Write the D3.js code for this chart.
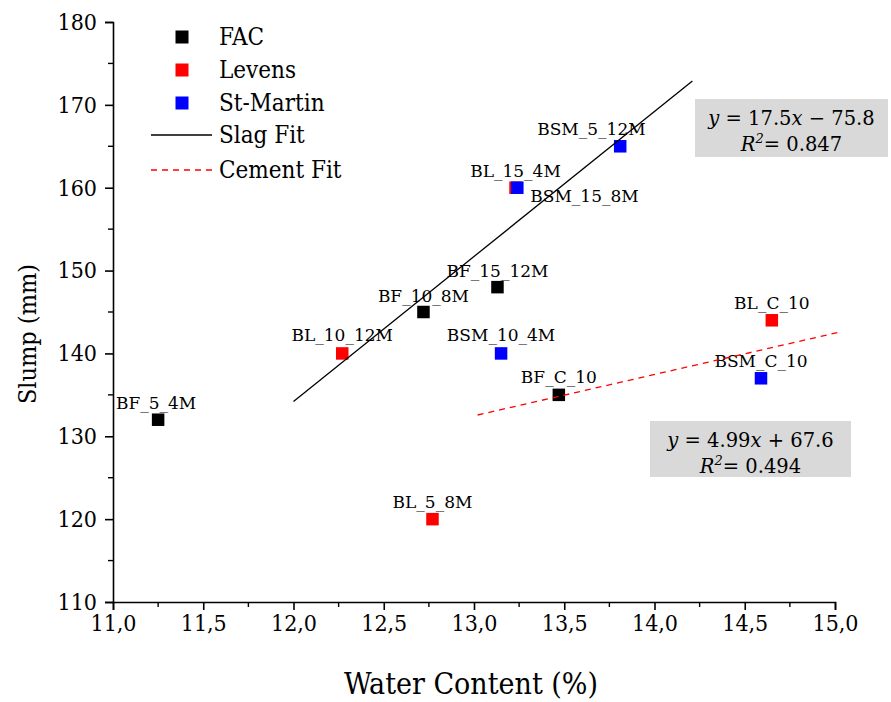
<!DOCTYPE html>
<html><head><meta charset="utf-8">
<script src="https://cdn.jsdelivr.net/npm/d3@7"></script>
<style>body{margin:0;background:#fff}</style>
</head><body>
<script>
// ---- data ----
const sampleNames = ["BF_5_4M","BF_10_8M","BF_15_12M","BF_C_10",
                     "BL_5_8M","BL_10_12M","BL_15_4M","BL_C_10",
                     "BSM_5_12M","BSM_10_4M","BSM_15_8M","BSM_C_10"];
const sampleGroup = ["FAC","FAC","FAC","FAC","Levens","Levens","Levens","Levens",
                     "St-Martin","St-Martin","St-Martin","St-Martin"];
const waterContent = [11.25,12.72,13.13,13.47, 12.77,12.27,13.23,14.65, 13.81,13.15,13.24,14.59];
const slumpValues  = [132,145,148,135, 120,140,160,144, 165,140,160,137];
const groups = ["FAC","Levens","St-Martin"];
const groupColors = ["#000000","#ff0000","#0000ff"];
const xTicks = [11,11.5,12,12.5,13,13.5,14,14.5,15];
const yTicks = [110,120,130,140,150,160,170,180];
const slagFit = {slope:17.5, intercept:-75.8, from:12.0, to:14.21, r2:0.847};
const cementFit = {slope:4.99, intercept:67.6, from:13.02, to:15.02, r2:0.494};

// ---- layout ----
const W = 891, H = 702;
const x = d3.scaleLinear().domain([11,15]).range([113,835]);
const y = d3.scaleLinear().domain([110,180]).range([602,22]);
// label placement: [dx, dy, anchor]
const labelPos = {
  "BF_5_4M":[-2,-11,"middle"], "BF_10_8M":[0,-10,"middle"], "BF_15_12M":[0,-10,"middle"],
  "BF_C_10":[0,-12,"middle"], "BL_5_8M":[0,-11,"middle"], "BL_10_12M":[0,-12,"middle"],
  "BL_15_4M":[0,-11,"middle"], "BL_C_10":[0,-11,"middle"], "BSM_5_12M":[-83,-11,"start"],
  "BSM_10_4M":[0,-12,"middle"], "BSM_15_8M":[13,14,"start"], "BSM_C_10":[0,-11,"middle"]
};

const svg = d3.select("body").append("svg").attr("width",W).attr("height",H)
  .style("font-family","'DejaVu Serif Condensed','DejaVu Serif',serif");

// axes
const xAxis = d3.axisBottom(x).tickValues(xTicks).tickFormat(d=>d.toFixed(1).replace(".",",")).tickSize(8).tickPadding(5);
const gx = svg.append("g").attr("transform",`translate(0,${y(110)})`).call(xAxis);
const yAxis = d3.axisLeft(y).tickValues(yTicks).tickSize(8).tickPadding(8);
const gy = svg.append("g").attr("transform",`translate(${x(11)},0)`).call(yAxis);
[gx,gy].forEach(g=>{
  g.select(".domain").attr("stroke","#000").attr("stroke-width",1.6);
  g.selectAll(".tick line").attr("stroke","#000").attr("stroke-width",1.6);
  g.selectAll(".tick text").attr("fill","#000").style("font-size","23px")
   .style("font-family","'DejaVu Serif Condensed','DejaVu Serif',serif");
});
// minor ticks
const xMinor = d3.range(11.25,15,0.5);
svg.append("g").selectAll("line").data(xMinor).join("line")
  .attr("x1",d=>x(d)).attr("x2",d=>x(d)).attr("y1",y(110)).attr("y2",y(110)+5)
  .attr("stroke","#000").attr("stroke-width",1.4);
const yMinor = d3.range(115,180,10);
svg.append("g").selectAll("line").data(yMinor).join("line")
  .attr("y1",d=>y(d)).attr("y2",d=>y(d)).attr("x1",x(11)).attr("x2",x(11)-5)
  .attr("stroke","#000").attr("stroke-width",1.4);

// axis titles
svg.append("text").attr("x",471).attr("y",694).attr("text-anchor","middle")
  .style("font-size","30px").text("Water Content (%)");
svg.append("text").attr("transform",`translate(36,334) rotate(-90)`)
  .attr("text-anchor","middle").style("font-size","25px").text("Slump (mm)");

// points
const idx = d3.range(sampleNames.length);
const color = g => groupColors[groups.indexOf(g)];
const s = 12.5;
svg.append("g").selectAll("rect").data(idx).join("rect")
  .attr("x",i=>x(waterContent[i])-s/2).attr("y",i=>y(slumpValues[i])-s/2)
  .attr("width",s).attr("height",s).attr("fill",i=>color(sampleGroup[i]));

// labels
svg.append("g").selectAll("text").data(idx).join("text")
  .attr("x",i=>x(waterContent[i])+labelPos[sampleNames[i]][0])
  .attr("y",i=>y(slumpValues[i])+labelPos[sampleNames[i]][1])
  .attr("text-anchor",i=>labelPos[sampleNames[i]][2])
  .style("font-family","'DejaVu Serif',serif").style("font-size","17px")
  .text(i=>sampleNames[i]);

// fit lines
const fitPts = f => [f.from,f.to].map(v=>[x(v), y(f.slope*v+f.intercept)]);
svg.append("path").attr("d",d3.line()(fitPts(slagFit))).attr("stroke","#000")
  .attr("stroke-width",1.3).attr("fill","none");
svg.append("path").attr("d",d3.line()(fitPts(cementFit))).attr("stroke","#ff0000")
  .attr("stroke-width",1.3).attr("fill","none").attr("stroke-dasharray","6,5");

// equation boxes
function eqBox(bx,by,bw,bh,f,sign){
  const g = svg.append("g");
  g.append("rect").attr("x",bx).attr("y",by).attr("width",bw).attr("height",bh).attr("fill","#d9d9d9");
  const cx = bx+bw/2;
  const t1 = g.append("text").attr("x",cx).attr("y",by+26).attr("text-anchor","middle")
    .style("font-family","'DejaVu Serif',serif").style("font-size","19.5px");
  t1.append("tspan").style("font-style","italic").text("y");
  t1.append("tspan").text(" = " + f.slope);
  t1.append("tspan").style("font-style","italic").text("x");
  t1.append("tspan").text(" " + sign + " " + Math.abs(f.intercept));
  const t2 = g.append("text").attr("x",cx).attr("y",by+52).attr("text-anchor","middle")
    .style("font-family","'DejaVu Serif',serif").style("font-size","19.5px");
  t2.append("tspan").style("font-style","italic").text("R");
  t2.append("tspan").attr("dy",-8).style("font-size","13px").style("font-style","italic").text("2");
  t2.append("tspan").attr("dy",8).text("= " + f.r2.toFixed(3));
}
eqBox(695,99,193,58,slagFit,"−");
eqBox(650,421,201,56,cementFit,"+");

// legend
const leg = svg.append("g");
groups.forEach((g,i)=>{
  const yy = 37 + i*33;
  leg.append("rect").attr("x",182-6.5).attr("y",yy-6.5).attr("width",13).attr("height",13).attr("fill",groupColors[i]);
  leg.append("text").attr("x",219).attr("y",yy+8).style("font-size","24px").text(g);
});
leg.append("line").attr("x1",151).attr("x2",212).attr("y1",135).attr("y2",135).attr("stroke","#000").attr("stroke-width",1.3);
leg.append("text").attr("x",219).attr("y",143).style("font-size","24px").text("Slag Fit");
leg.append("line").attr("x1",151).attr("x2",212).attr("y1",170).attr("y2",170).attr("stroke","#ff0000")
  .attr("stroke-width",1.3).attr("stroke-dasharray","6,5");
leg.append("text").attr("x",219).attr("y",178).style("font-size","24px").text("Cement Fit");
</script>
</body></html>
